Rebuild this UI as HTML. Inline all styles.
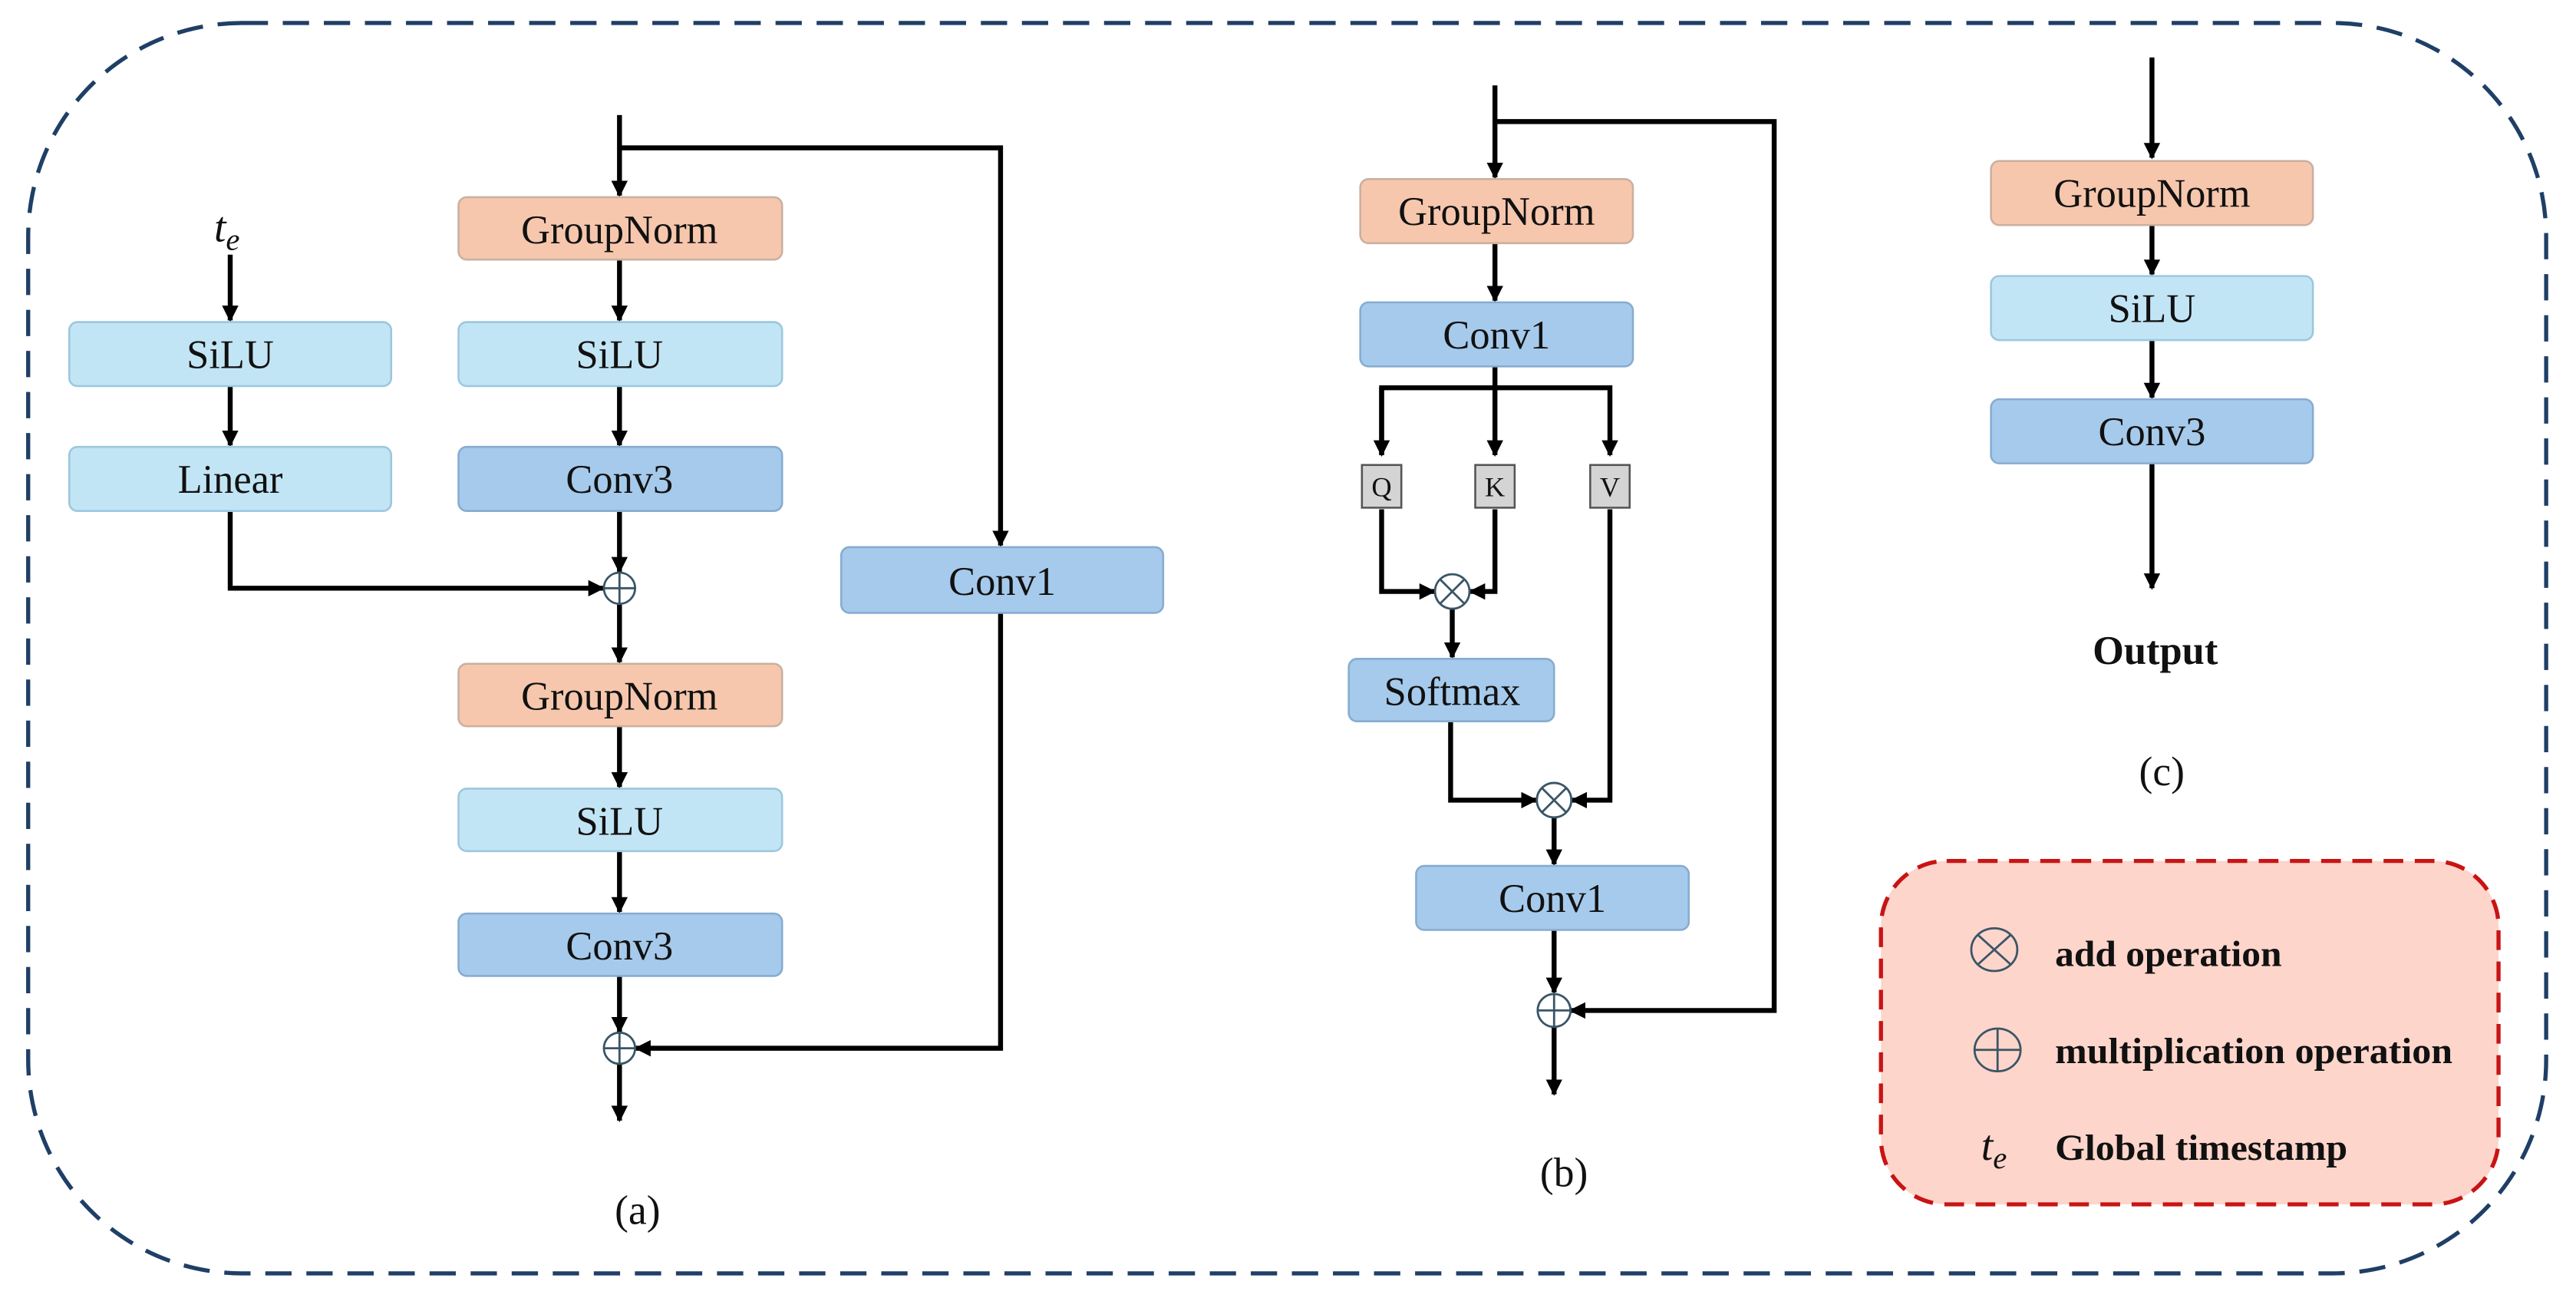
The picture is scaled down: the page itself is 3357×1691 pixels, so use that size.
<!DOCTYPE html>
<html><head><meta charset="utf-8"><style>
html,body{margin:0;padding:0;background:#fff;}
svg{display:block;}
text{font-family:"Liberation Serif",serif;fill:#111;}
</style></head><body>
<svg width="3357" height="1691" viewBox="0 0 1568 790" xmlns="http://www.w3.org/2000/svg">
<defs>
<marker id="ah" markerWidth="10" markerHeight="10" refX="9" refY="5" orient="auto" markerUnits="userSpaceOnUse">
<path d="M0,0 L10,5 L0,10 Z" fill="#000"/></marker>
</defs>
<rect x="17" y="14" width="1533" height="761" rx="130" fill="none" stroke="#1f3f66" stroke-width="2.5" stroke-dasharray="16,9"/>

<g stroke="#000" stroke-width="3" fill="none">
<line x1="377" y1="70" x2="377" y2="119" marker-end="url(#ah)"/>
<polyline points="377,90 609,90 609,332" marker-end="url(#ah)"/>
<line x1="377" y1="158" x2="377" y2="195" marker-end="url(#ah)"/>
<line x1="377" y1="235" x2="377" y2="271" marker-end="url(#ah)"/>
<line x1="377" y1="311" x2="377" y2="348" marker-end="url(#ah)"/>
<line x1="140" y1="155" x2="140" y2="195" marker-end="url(#ah)"/>
<line x1="140" y1="235" x2="140" y2="271" marker-end="url(#ah)"/>
<polyline points="140,311 140,358 367,358" marker-end="url(#ah)"/>
<line x1="377" y1="368" x2="377" y2="403" marker-end="url(#ah)"/>
<line x1="377" y1="442" x2="377" y2="479" marker-end="url(#ah)"/>
<line x1="377" y1="518" x2="377" y2="555" marker-end="url(#ah)"/>
<line x1="377" y1="594" x2="377" y2="628" marker-end="url(#ah)"/>
<polyline points="609,373 609,638 387,638" marker-end="url(#ah)"/>
<line x1="377" y1="648" x2="377" y2="682" marker-end="url(#ah)"/>
<line x1="910" y1="52" x2="910" y2="108" marker-end="url(#ah)"/>
<polyline points="910,74 1080,74 1080,615 956,615" marker-end="url(#ah)"/>
<line x1="910" y1="148" x2="910" y2="183" marker-end="url(#ah)"/>
<line x1="910" y1="223" x2="910" y2="277" marker-end="url(#ah)"/>
<polyline points="841,277 841,236 980,236 980,277" marker-end="url(#ah)"/>
<line x1="841" y1="236" x2="841" y2="277" marker-end="url(#ah)"/>
<polyline points="841,310 841,360 873,360" marker-end="url(#ah)"/>
<polyline points="910,310 910,360 895,360" marker-end="url(#ah)"/>
<line x1="884" y1="370" x2="884" y2="400" marker-end="url(#ah)"/>
<polyline points="883,439 883,487 935,487" marker-end="url(#ah)"/>
<polyline points="980,310 980,487 957,487" marker-end="url(#ah)"/>
<line x1="946" y1="497" x2="946" y2="526" marker-end="url(#ah)"/>
<line x1="946" y1="566" x2="946" y2="604" marker-end="url(#ah)"/>
<line x1="946" y1="625" x2="946" y2="666" marker-end="url(#ah)"/>
<line x1="1310" y1="35" x2="1310" y2="96" marker-end="url(#ah)"/>
<line x1="1310" y1="137" x2="1310" y2="167" marker-end="url(#ah)"/>
<line x1="1310" y1="207" x2="1310" y2="242" marker-end="url(#ah)"/>
<line x1="1310" y1="282" x2="1310" y2="358" marker-end="url(#ah)"/>
</g>

<g stroke-width="1.2" font-size="24.5" text-anchor="middle">
<rect x="279" y="120" width="197" height="38" rx="5" fill="#f6c7ad" stroke="#c9b0a0"/>
<rect x="279" y="196" width="197" height="39" rx="5" fill="#c2e5f5" stroke="#9cc7dd"/>
<rect x="279" y="272" width="197" height="39" rx="5" fill="#a6caeb" stroke="#86acd0"/>
<rect x="42" y="196" width="196" height="39" rx="5" fill="#c2e5f5" stroke="#9cc7dd"/>
<rect x="42" y="272" width="196" height="39" rx="5" fill="#c2e5f5" stroke="#9cc7dd"/>
<rect x="512" y="333" width="196" height="40" rx="5" fill="#a6caeb" stroke="#86acd0"/>
<rect x="279" y="404" width="197" height="38" rx="5" fill="#f6c7ad" stroke="#c9b0a0"/>
<rect x="279" y="480" width="197" height="38" rx="5" fill="#c2e5f5" stroke="#9cc7dd"/>
<rect x="279" y="556" width="197" height="38" rx="5" fill="#a6caeb" stroke="#86acd0"/>
<rect x="828" y="109" width="166" height="39" rx="5" fill="#f6c7ad" stroke="#c9b0a0"/>
<rect x="828" y="184" width="166" height="39" rx="5" fill="#a6caeb" stroke="#86acd0"/>
<rect x="821" y="401" width="125" height="38" rx="5" fill="#a6caeb" stroke="#86acd0"/>
<rect x="862" y="527" width="166" height="39" rx="5" fill="#a6caeb" stroke="#86acd0"/>
<rect x="1212" y="98" width="196" height="39" rx="5" fill="#f6c7ad" stroke="#c9b0a0"/>
<rect x="1212" y="168" width="196" height="39" rx="5" fill="#c2e5f5" stroke="#9cc7dd"/>
<rect x="1212" y="243" width="196" height="39" rx="5" fill="#a6caeb" stroke="#86acd0"/>
<rect x="829" y="283" width="24" height="26" fill="#d4d4d4" stroke="#555"/>
<rect x="898" y="283" width="24" height="26" fill="#d4d4d4" stroke="#555"/>
<rect x="968" y="283" width="24" height="26" fill="#d4d4d4" stroke="#555"/>

<text x="377" y="148">GroupNorm</text>
<text x="377" y="224">SiLU</text>
<text x="377" y="300">Conv3</text>
<text x="140" y="224">SiLU</text>
<text x="140" y="300">Linear</text>
<text x="610" y="362">Conv1</text>
<text x="377" y="432">GroupNorm</text>
<text x="377" y="508">SiLU</text>
<text x="377" y="584">Conv3</text>
<text x="911" y="137">GroupNorm</text>
<text x="911" y="212">Conv1</text>
<text x="884" y="429">Softmax</text>
<text x="945" y="555">Conv1</text>
<text x="1310" y="126">GroupNorm</text>
<text x="1310" y="196">SiLU</text>
<text x="1310" y="271">Conv3</text>
<text x="841" y="302" font-size="17">Q</text>
<text x="910" y="302" font-size="17">K</text>
<text x="980" y="302" font-size="17">V</text>
<text x="1312" y="404" font-weight="bold">Output</text>
</g>

<text x="138" y="147" font-size="26" font-style="italic" text-anchor="middle">t<tspan font-size="19" dy="5">e</tspan></text>

<g fill="#fff" stroke="#3a5566" stroke-width="1.3">
<circle cx="377" cy="358" r="9.5"/><path d="M367.5,358H386.5M377,348.5V367.5"/>
<circle cx="377" cy="638" r="9.5"/><path d="M367.5,638H386.5M377,628.5V647.5"/>
<circle cx="946" cy="615" r="10"/><path d="M936,615H956M946,605V625"/>
<circle cx="884" cy="360" r="10.5"/><path d="M876.6,352.6L891.4,367.4M891.4,352.6L876.6,367.4"/>
<circle cx="946" cy="487" r="10.5"/><path d="M938.6,479.6L953.4,494.4M953.4,479.6L938.6,494.4"/>
</g>

<text x="388" y="745" font-family="Liberation Sans,sans-serif" font-size="25" text-anchor="middle">(a)</text>
<text x="952" y="722" font-family="Liberation Sans,sans-serif" font-size="25" text-anchor="middle">(b)</text>
<text x="1316" y="478" font-family="Liberation Sans,sans-serif" font-size="25" text-anchor="middle">(c)</text>

<rect x="1145" y="524" width="376" height="209" rx="40" fill="#fdd5cb" stroke="#c81414" stroke-width="2.5" stroke-dasharray="12,7"/>
<g fill="none" stroke="#3a5566" stroke-width="1.3">
<ellipse cx="1214" cy="578" rx="14" ry="13"/><path d="M1204,569L1224,587M1224,569L1204,587"/>
<ellipse cx="1216" cy="639" rx="14" ry="13"/><path d="M1202,639H1230M1216,626V652"/>
</g>
<g font-size="22" font-weight="bold">
<text x="1251" y="588" textLength="138" lengthAdjust="spacingAndGlyphs">add operation</text>
<text x="1251" y="647" textLength="242" lengthAdjust="spacingAndGlyphs">multiplication operation</text>
<text x="1251" y="706" textLength="178" lengthAdjust="spacingAndGlyphs">Global timestamp</text>
</g>
<text x="1206" y="706" font-size="26" font-style="italic">t<tspan font-size="19" dy="5">e</tspan></text>
</svg>
</body></html>
